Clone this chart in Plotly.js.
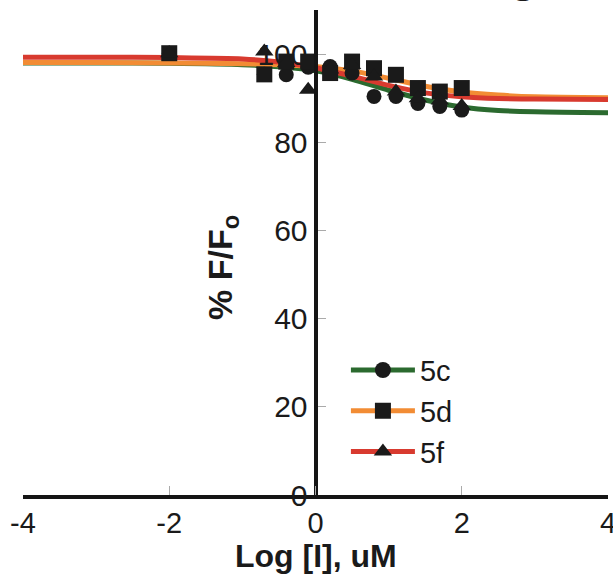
<!DOCTYPE html>
<html>
<head>
<meta charset="utf-8">
<script src="https://cdn.plot.ly/plotly-3.0.1.min.js"></script>
<style>
  html, body { margin: 0; padding: 0; background: #ffffff; }
  #chart { width: 613px; height: 584px; }
</style>
</head>
<body>
<div id="chart"></div>
<script>
// ---- data ----
var seriesNames = ["5c", "5d", "5f"];

// measured points (log concentration, % F/Fo)
var x5c = [-2, -0.7, -0.4, -0.1, 0.2, 0.5, 0.8, 1.1, 1.4, 1.7, 2.0];
var y5c = [100.2, 95.4, 95.3, 97.0, 97.2, 95.7, 90.4, 90.4, 88.8, 88.1, 87.3];

var x5d = [-2, -0.7, -0.4, -0.1, 0.2, 0.5, 0.8, 1.1, 1.4, 1.7, 2.0];
var y5d = [100.2, 95.4, 98.3, 98.3, 95.7, 98.3, 96.8, 95.3, 92.3, 91.5, 92.3];

var x5f = [-2, -0.7, -0.4, -0.1, 0.2, 0.5, 0.8, 1.1, 1.4, 1.7, 2.0];
var y5f = [100.2, 100.6, 98.0, 91.9, 96.5, 97.5, 94.9, 91.5, 90.0, 89.5, 88.2];

// fitted curves
var xFit = [-4, -3, -2, -1, -0.5, 0, 0.5, 1, 1.5, 2, 2.5, 3, 4];
var fit5c = [98.0, 98.0, 97.9, 97.6, 97.1, 96.2, 94.3, 91.8, 89.6, 88.0, 87.2, 86.9, 86.7];
var fit5d = [98.1, 98.1, 98.0, 97.8, 97.6, 97.2, 96.2, 94.5, 92.7, 91.4, 90.7, 90.3, 90.1];
var fit5f = [99.3, 99.3, 99.2, 98.9, 98.2, 96.9, 95.0, 92.9, 91.2, 90.3, 89.9, 89.8, 89.7];

var xTicks = [-4, -2, 0, 2, 4];
var yTicks = [0, 20, 40, 60, 80, 100];

// ---- styles ----
var colors = {"5c": "#2b6a2f", "5d": "#f28c34", "5f": "#d83a2f"};
var symbols = {"5c": "circle", "5d": "square", "5f": "triangle-up"};
var markerColor = "#1a1a1a";
var fontFam = '"Liberation Sans", Arial, Helvetica, sans-serif';

var fits = {"5c": fit5c, "5d": fit5d, "5f": fit5f};
var pts = {"5c": [x5c, y5c], "5d": [x5d, y5d], "5f": [x5f, y5f]};
var msize = {"5c": 15, "5d": 16, "5f": 16};

var traces = [];
// curves
seriesNames.forEach(function (n) {
  traces.push({
    x: xFit, y: fits[n], mode: "lines", type: "scatter",
    line: {color: colors[n], width: 5, shape: "spline", smoothing: 0.8},
    showlegend: false, hoverinfo: "skip", cliponaxis: false
  });
});
// points
seriesNames.forEach(function (n) {
  traces.push({
    x: pts[n][0], y: pts[n][1], mode: "markers", type: "scatter",
    marker: {symbol: symbols[n], size: msize[n], color: markerColor},
    showlegend: false, cliponaxis: false
  });
});
// legend entries
seriesNames.forEach(function (n, i) {
  traces.push({
    x: [null], y: [null], mode: "lines+markers", type: "scatter", name: n,
    legendgroup: "g" + i,
    line: {color: colors[n], width: 5},
    marker: {symbol: symbols[n], size: 16, color: markerColor}
  });
});

var layout = {
  width: 613, height: 584,
  margin: {l: 23, r: 5, t: 10, b: 89},
  paper_bgcolor: "#ffffff", plot_bgcolor: "#ffffff",
  font: {family: fontFam, color: "#1a1a1a"},
  showlegend: true,
  legend: {
    x: 0.552, y: 0.31, xanchor: "left", yanchor: "top",
    bgcolor: "rgba(0,0,0,0)", font: {size: 29, color: "#1a1a1a", family: fontFam},
    itemwidth: 64, tracegroupgap: 4, traceorder: "normal"
  },
  xaxis: {
    range: [-4, 4], tickvals: xTicks, ticktext: xTicks.map(String),
    showgrid: false, zeroline: false,
    showline: true, linecolor: "#151515", linewidth: 4,
    ticks: "inside", ticklen: 9, tickwidth: 1, tickcolor: "#aaaaaa",
    tickfont: {size: 29, color: "#1a1a1a"}, ticklabelstandoff: -1,
    ticklabeloverflow: "allow"
  },
  yaxis: {
    range: [0, 110], tickvals: yTicks, ticktext: yTicks.map(String),
    anchor: "free", position: 0.5, side: "left",
    showgrid: false, zeroline: false,
    showline: true, linecolor: "#151515", linewidth: 4,
    ticks: "inside", ticklen: 8, tickwidth: 1, tickcolor: "#aaaaaa",
    tickfont: {size: 30, color: "#1a1a1a"}, ticklabeloverflow: "allow"
  },
  annotations: [
    {text: "Log [I], uM", xref: "paper", yref: "paper", x: 0.5, y: -0.126,
     xanchor: "center", yanchor: "middle", showarrow: false,
     font: {size: 32, weight: "bold", color: "#1a1a1a"}},
    {text: "% F/F<sub>o</sub>", xref: "paper", yref: "paper", x: 0.34, y: 0.47,
     xanchor: "center", yanchor: "middle", showarrow: false, textangle: -90,
     font: {size: 34, weight: "bold", color: "#1a1a1a"}},
    {text: "g", xref: "paper", yref: "paper", x: 0.855, y: 1.014,
     xanchor: "center", yanchor: "bottom", showarrow: false,
     font: {size: 44, weight: "bold", color: "#1a1a1a"}}
  ]
};

Plotly.newPlot("chart", traces, layout, {displayModeBar: false, staticPlot: true});
</script>
</body>
</html>
